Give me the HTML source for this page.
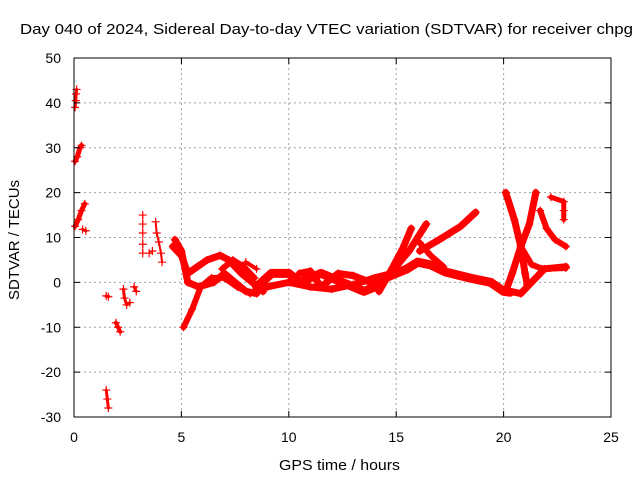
<!DOCTYPE html>
<html><head><meta charset="utf-8"><style>
body{margin:0;background:#fff}
svg text{font-family:"Liberation Sans",sans-serif;font-size:14px;fill:#000}
</style></head><body>
<svg id="chart" width="640" height="480">
<rect width="640" height="480" fill="#fff"/>
<g id="grid"></g>
<g id="series"></g>
<rect x="74" y="58" width="537" height="359" fill="none" stroke="#000" stroke-width="1"/>
<g id="ticks"></g>
<text x="20" y="34" textLength="613" lengthAdjust="spacingAndGlyphs" style="font-size:15px">Day 040 of 2024, Sidereal Day-to-day VTEC variation (SDTVAR) for receiver chpg</text>
<text x="279" y="470" textLength="121" lengthAdjust="spacingAndGlyphs" style="font-size:15px">GPS time / hours</text>
<text x="0" y="0" text-anchor="middle" textLength="120" lengthAdjust="spacingAndGlyphs" style="font-size:15px" transform="translate(19,240) rotate(-90)">SDTVAR / TECUs</text>
</svg>
<script>
const xTicks=[0,5,10,15,20,25];
const yTicks=[-30,-20,-10,0,10,20,30,40,50];
// sparse clusters (hours, TECU)
const clusterA=[[0.05,39],[0.08,40.5],[0.1,42],[0.12,43]];
const clusterB=[[0.05,27],[0.15,28],[0.28,30],[0.35,30.5]];
const clusterC=[[0.05,12.5],[0.2,14],[0.35,16],[0.5,17.5]];
const clusterD=[[0.4,11.8],[0.55,11.5]];
const clusterE=[[1.5,-3],[1.6,-3.2]];
const clusterF=[[1.5,-24],[1.55,-26],[1.6,-28]];
const clusterG=[[1.95,-9],[2.05,-10],[2.15,-11]];
const clusterH=[[2.3,-1.5],[2.35,-3.5],[2.45,-5],[2.6,-4.5]];
const clusterI=[[2.8,-1],[2.9,-2]];
const clusterJ=[[3.2,15],[3.2,13],[3.2,11],[3.2,8.5],[3.2,6.5]];
const clusterK=[[3.5,6.5],[3.65,7]];
const clusterL=[[3.8,13.5],[3.85,11],[3.95,9],[4.05,6.5],[4.1,4.5]];
// main tracks
const track1=[[4.6,8],[5.0,6],[5.3,2],[5.6,3],[6.2,5],[6.8,6],[7.2,5],[7.8,2],[8.3,0],[8.8,-2]];
const track2=[[4.7,9.5],[5.0,7],[5.3,0],[5.8,-1],[6.5,0],[7.0,2],[7.5,0],[8.0,-2],[8.5,-2.5]];
const track3=[[5.1,-10],[5.5,-6],[5.9,-1],[6.4,1],[7.0,1],[7.6,-1],[8.2,-2.5]];
const track4=[[6.9,3],[7.4,5],[7.9,3.5],[8.4,1]];
const track5=[[8.0,4.5],[8.5,3]];
const track6=[[8.5,-1],[9.2,2],[10,2],[10.5,0],[11,1],[11.5,2],[12,1],[12.5,0],[13,-1],[13.5,-2],[14,-1],[14.5,1],[15,2],[15.5,3],[16,4.5],[16.6,3.9],[17.3,2.3],[18.4,1],[19.4,0],[20,-2],[20.3,-2.2]];
const track7=[[9,-1],[10,0],[11,-1],[12,-1.5],[13,-0.5],[14,1],[14.8,2]];
const track7b=[[10.5,2],[11,2.5],[11.5,-1],[12.3,2],[13,1.5],[13.8,0]];
const track8=[[14.2,-2],[14.8,3],[15.3,7.5],[15.7,12]];
const track9=[[14.9,3],[15.6,7],[16.4,13]];
const track10=[[16.1,7],[17,9.5],[18,12.5],[18.7,15.6]];
const track11=[[16.1,8.8],[16.6,6],[17.2,3.5]];
const track12=[[20.1,20],[20.5,14],[20.8,8],[21,2],[21.1,-0.5]];
const track13=[[21.5,20],[21.2,13],[20.8,8],[20.4,2],[20.1,-2]];
const track14=[[20.3,-2],[20.8,-2.5],[21.3,0],[21.9,3],[22.9,3.5]];
const track15=[[20.8,8],[21.3,4],[21.8,3],[22.9,3.2]];
const track16=[[21.7,16],[22.0,12],[22.4,9.5],[22.9,8]];
const track17=[[22.2,19],[22.8,18],[22.8,16],[22.8,14]];
const tracks=[[clusterA,3],[clusterB,5],[clusterC,5],[clusterD,3],[clusterE,3],[clusterF,3],[clusterG,4],[clusterH,3],[clusterI,3],[clusterJ,1],[clusterK,1],[clusterL,2],
[track1,7],[track2,7],[track3,6],[track4,6],[track5,4],[track6,9],[track7,7],[track7b,7],[track8,7],[track9,7],[track10,7],[track11,6],[track12,7],[track13,7],[track14,7],[track15,6],[track16,6],[track17,5]];
const X=h=>74+h*537/25, Y=v=>417-(v+30)*359/80;
const NS='http://www.w3.org/2000/svg';
const grid=document.getElementById('grid'), ticks=document.getElementById('ticks'), ser=document.getElementById('series');
function mk(tag,attrs,parent){const e=document.createElementNS(NS,tag);for(const k in attrs)e.setAttribute(k,attrs[k]);parent.appendChild(e);return e;}
xTicks.forEach(t=>{
  if(t>0&&t<25){const g=mk('line',{x1:X(t),x2:X(t),y1:58,y2:417,stroke:'#a0a0a0','stroke-dasharray':'2,3'},grid);
  
  }
  const l=mk('line',{x1:X(t),x2:X(t),y1:417,y2:411,stroke:'#000'},ticks);
  
  
  const l2=mk('line',{x1:X(t),x2:X(t),y1:58,y2:64,stroke:'#000'},ticks);
  
  
  const tx=mk('text',{x:X(t),y:442,'text-anchor':'middle'},ticks);tx.textContent=t;
  
  
});
yTicks.forEach(t=>{
  if(t>-30&&t<50){const g=mk('line',{x1:74,x2:611,y1:Y(t),y2:Y(t),stroke:'#a0a0a0','stroke-dasharray':'2,3'},grid);
  
  }
  const l=mk('line',{x1:74,x2:80,y1:Y(t),y2:Y(t),stroke:'#000'},ticks);
  
  
  const l2=mk('line',{x1:605,x2:611,y1:Y(t),y2:Y(t),stroke:'#000'},ticks);
  
  
  const tx=mk('text',{x:61,y:Y(t)+5,'text-anchor':'end'},ticks);tx.textContent=t;
  
  
});
tracks.forEach(([pts,w])=>{
  const p=mk('polyline',{points:pts.map(q=>X(q[0])+','+Y(q[1])).join(' '),fill:'none',stroke:'#ff0000','stroke-width':w,'stroke-linejoin':'round','stroke-linecap':'round'},ser);
  
  
  pts.forEach(q=>{
    const m=mk('path',{d:`M${X(q[0])-4},${Y(q[1])}h8M${X(q[0])},${Y(q[1])-4}v8`,stroke:'#ff0000','stroke-width':1.2},ser);
    
    
  });
});
</script>
</body></html>
